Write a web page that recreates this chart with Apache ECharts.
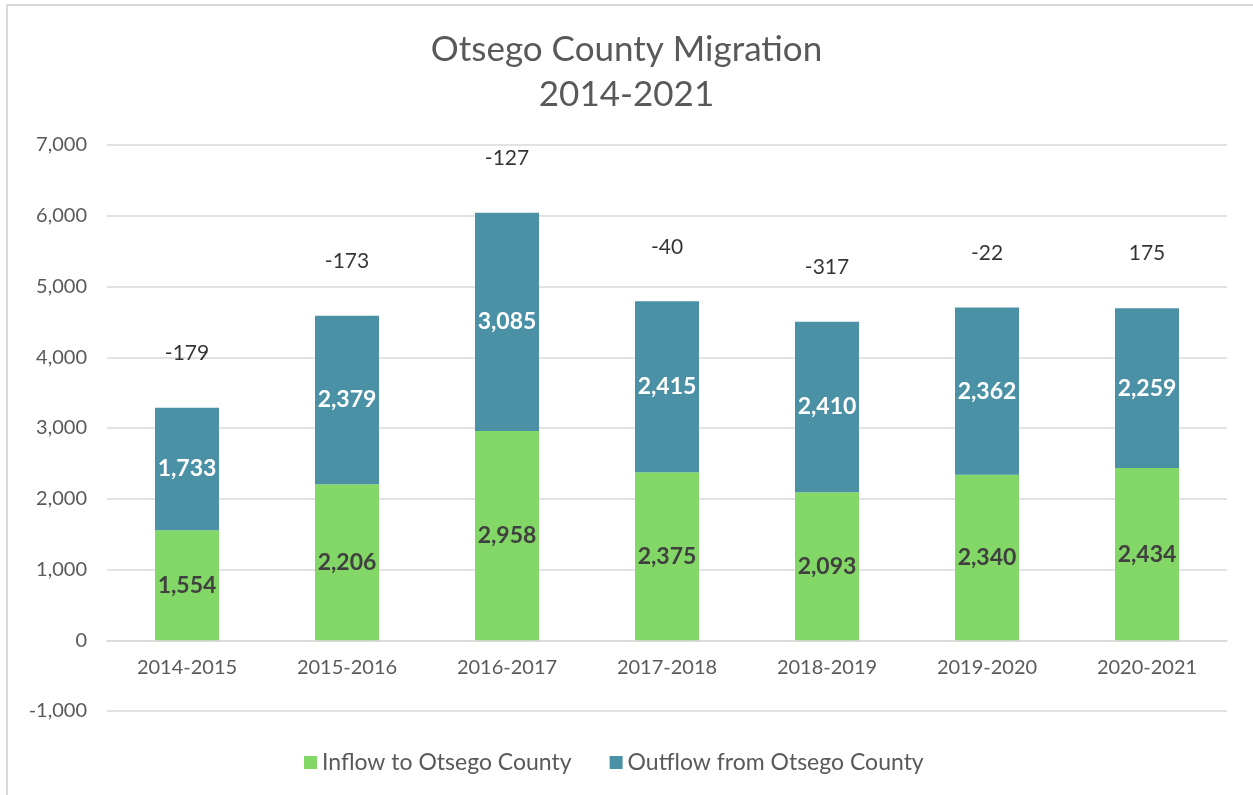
<!DOCTYPE html>
<html>
<head>
<meta charset="utf-8">
<script src="https://cdn.jsdelivr.net/npm/echarts@6/dist/echarts.min.js"></script>
<style>
  html, body { margin: 0; padding: 0; background: #fff; }
  #main { width: 1253px; height: 795px; }
</style>
</head>
<body>
<div id="main"></div>
<script>
// migration data
var years = ['2014-2015', '2015-2016', '2016-2017', '2017-2018', '2018-2019', '2019-2020', '2020-2021'];
var inflow = [1554, 2206, 2958, 2375, 2093, 2340, 2434];
var outflow = [1733, 2379, 3085, 2415, 2410, 2362, 2259];
var net = [-179, -173, -127, -40, -317, -22, 175];

var FONT = 'Lato, "Open Sans", sans-serif';

function fmt(v) {
  return v.toLocaleString('en-US');
}

var totals = inflow.map(function (v, i) { return v + outflow[i]; });

// grid geometry, used to lift the category axis up to the zero line
var gridTop = 145, gridBottom = 84;
var yMin = -1000, yMax = 7000;
var plotH = 795 - gridTop - gridBottom;
var zeroOffset = -plotH * (0 - yMin) / (yMax - yMin);

var chart = echarts.init(document.getElementById('main'));

var option = {
  backgroundColor: '#fff',
  animation: false,
  textStyle: { fontFamily: FONT },
  graphic: [{
    type: 'rect',
    shape: { x: 7, y: 5, width: 1300, height: 850 },
    style: { fill: 'none', stroke: '#d9d9d9', lineWidth: 2 },
    silent: true
  }],
  title: {
    text: 'Otsego County Migration\n2014-2021',
    left: 'center',
    top: 22,
    textStyle: {
      fontFamily: FONT,
      fontSize: 35,
      fontWeight: 'normal',
      color: '#595959',
      lineHeight: 45
    }
  },
  legend: {
    bottom: 16,
    left: 299,
    itemWidth: 13,
    itemHeight: 13,
    itemGap: 38,
    icon: 'rect',
    data: ['Inflow to Otsego County', 'Outflow from Otsego County'],
    textStyle: { fontFamily: FONT, fontSize: 23, color: '#595959' }
  },
  grid: {
    left: 107,
    right: 26,
    top: gridTop,
    bottom: gridBottom
  },
  xAxis: {
    type: 'category',
    data: years,
    position: 'bottom',
    offset: zeroOffset,
    axisTick: { show: false },
    axisLine: { show: true, onZero: false, lineStyle: { color: '#d9d9d9', width: 1.5 } },
    axisLabel: { fontFamily: FONT, fontSize: 20, color: '#595959', margin: 17 }
  },
  yAxis: {
    type: 'value',
    min: yMin,
    max: yMax,
    interval: 1000,
    axisLine: { show: false },
    axisTick: { show: false },
    axisLabel: {
      fontFamily: FONT,
      fontSize: 20,
      color: '#595959',
      margin: 20,
      formatter: function (v) { return fmt(v); }
    },
    splitLine: { lineStyle: { color: '#d9d9d9', width: 1.5 } }
  },
  series: [
    {
      name: 'Inflow to Otsego County',
      type: 'bar',
      stack: 'flow',
      barWidth: '40%',
      data: inflow,
      itemStyle: { color: '#82d766' },
      label: {
        show: true,
        position: 'inside',
        fontFamily: FONT,
        fontSize: 23,
        fontWeight: 'bold',
        color: '#404040',
        formatter: function (p) { return fmt(p.value); }
      }
    },
    {
      name: 'Outflow from Otsego County',
      type: 'bar',
      stack: 'flow',
      data: outflow,
      itemStyle: { color: '#4a91a6' },
      label: {
        show: true,
        position: 'inside',
        fontFamily: FONT,
        fontSize: 23,
        fontWeight: 'bold',
        color: '#ffffff',
        formatter: function (p) { return fmt(p.value); }
      }
    },
    {
      name: 'Net',
      type: 'scatter',
      symbolSize: 0,
      data: totals,
      silent: true,
      label: {
        show: true,
        position: 'top',
        distance: 44,
        fontFamily: FONT,
        fontSize: 21,
        color: '#000000',
        formatter: function (p) { return String(net[p.dataIndex]); }
      }
    }
  ]
};

chart.setOption(option);
</script>
</body>
</html>
